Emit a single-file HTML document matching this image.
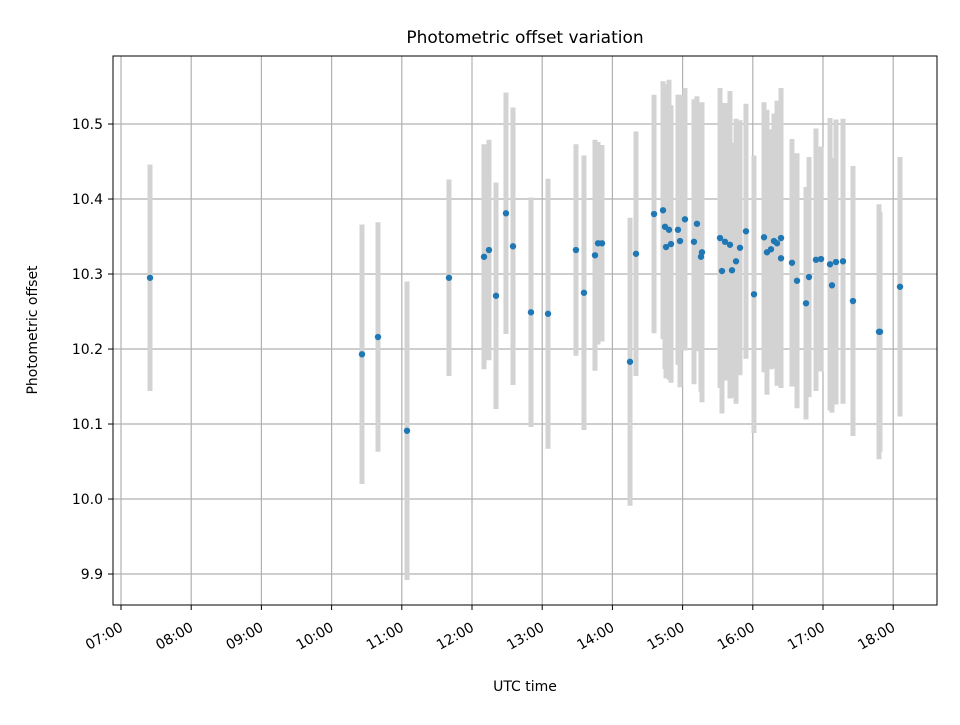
<!DOCTYPE html>
<html><head><meta charset="utf-8"><style>
body{margin:0;background:#fff;}
svg text{font-family:"DejaVu Sans","Liberation Sans",sans-serif;fill:#000;}
</style></head><body>
<svg id="chart" width="960" height="720" xmlns="http://www.w3.org/2000/svg">
<rect width="960" height="720" fill="#fff"/>
<text x="525" y="43" font-size="17" text-anchor="middle">Photometric offset variation</text>
<g id="grid"></g><g id="bars"></g><g id="pts"></g><g id="axes"></g>
<text x="525" y="691" font-size="14" text-anchor="middle">UTC time</text>
<text transform="translate(37,330) rotate(-90)" font-size="14" text-anchor="middle">Photometric offset</text>
</svg>
<script>
const times=[7.413,10.433,10.661,11.074,11.672,12.171,12.242,12.342,12.484,12.584,12.840,13.083,13.481,13.595,13.752,13.795,13.852,14.251,14.336,14.593,14.721,14.749,14.806,14.764,14.835,14.934,14.963,15.034,15.162,15.205,15.276,15.262,15.533,15.561,15.604,15.675,15.704,15.761,15.818,15.903,16.017,16.160,16.202,16.259,16.302,16.345,16.402,16.402,16.558,16.630,16.758,16.801,16.900,16.972,17.100,17.128,17.185,17.285,17.427,17.798,17.812,18.097];
const offsets=[10.295,10.193,10.216,10.091,10.295,10.323,10.332,10.271,10.381,10.337,10.249,10.247,10.332,10.275,10.325,10.341,10.341,10.183,10.327,10.380,10.385,10.363,10.359,10.336,10.340,10.359,10.344,10.373,10.343,10.367,10.329,10.323,10.348,10.304,10.343,10.339,10.305,10.317,10.335,10.357,10.273,10.349,10.329,10.333,10.344,10.341,10.348,10.321,10.315,10.291,10.261,10.296,10.319,10.320,10.313,10.285,10.316,10.317,10.264,10.223,10.223,10.283];
const errors=[0.151,0.173,0.153,0.199,0.131,0.150,0.147,0.151,0.161,0.185,0.153,0.180,0.141,0.183,0.154,0.135,0.131,0.192,0.163,0.159,0.172,0.190,0.200,0.175,0.185,0.180,0.195,0.175,0.190,0.170,0.200,0.180,0.200,0.190,0.185,0.205,0.170,0.190,0.170,0.170,0.185,0.180,0.190,0.160,0.170,0.190,0.200,0.160,0.165,0.170,0.155,0.160,0.175,0.150,0.195,0.170,0.190,0.190,0.180,0.170,0.160,0.173];
const xTicks=[7,8,9,10,11,12,13,14,15,16,17,18];
const yTicks=[9.9,10.0,10.1,10.2,10.3,10.4,10.5];
const L=113,R=937,T=56,B=605,x0=6.886,x1=18.624,y0=9.8587,y1=10.5907;
const X=h=>L+(h-x0)/(x1-x0)*(R-L);
const Y=v=>B-(v-y0)/(y1-y0)*(B-T);
const NS="http://www.w3.org/2000/svg";
function mk(tag,attrs,parent){const e=document.createElementNS(NS,tag);for(const k in attrs)e.setAttribute(k,attrs[k]);document.getElementById(parent).appendChild(e);return e;}
const pad=n=>(n<10?"0":"")+n;
xTicks.forEach(h=>{const x=X(h);
 const g=mk('line',{x1:x,x2:x,y1:T,y2:B,stroke:'#b0b0b0','stroke-width':1.2},'grid');
 
 
 const t=mk('line',{x1:x,x2:x,y1:B,y2:B+5,stroke:'#000','stroke-width':1},'axes');
 
 
 const l=mk('text',{transform:`translate(${x+3},${B+25}) rotate(-30)`,'font-size':14,'text-anchor':'end'},'axes');
 l.textContent=pad(h)+":00";
 
 
});
yTicks.forEach(v=>{const y=Y(v);
 const g=mk('line',{x1:L,x2:R,y1:y,y2:y,stroke:'#b0b0b0','stroke-width':1.2},'grid');
 
 
 const t=mk('line',{x1:L-5,x2:L,y1:y,y2:y,stroke:'#000','stroke-width':1},'axes');
 
 
 const l=mk('text',{x:L-10,y:y+5,'font-size':14,'text-anchor':'end'},'axes');
 l.textContent=v.toFixed(1);
 
 
});
const fr=mk('rect',{x:L,y:T,width:R-L,height:B-T,fill:'none',stroke:'#000','stroke-width':1},'axes');


times.forEach((h,i)=>{const x=X(h);
 const b=mk('line',{x1:x,x2:x,y1:Y(offsets[i]+errors[i]),y2:Y(offsets[i]-errors[i]),stroke:'#d3d3d3','stroke-width':5},'bars');
 
 
 const p=mk('circle',{cx:x,cy:Y(offsets[i]),r:3.2,fill:'#1f77b4'},'pts');
 
 
});
</script>
</body></html>
